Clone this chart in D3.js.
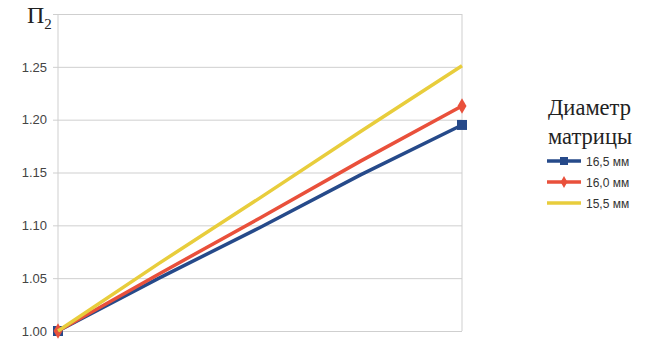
<!DOCTYPE html>
<html>
<head>
<meta charset="utf-8">
<style>
    body { margin: 0; background: #fff; }
    svg { display: block; }
    .y .tick text { font-family: 'Liberation Sans', Arial, sans-serif; font-size: 13px; fill: #444; }
    .y .tick line { stroke: #cfcfcf; }
    .y .domain { display: none; }
    .legend text { font-family: 'Liberation Sans', Arial, sans-serif; font-size: 12px; fill: #333; }
</style>
</head>
<body>
<svg width="646" height="341"></svg>
<script src="https://d3js.org/d3.v7.min.js"></script>
<script>
    // values
    let steps = [0, 1, 2, 3, 4]
    let d165 = [1.000, 1.050, 1.098, 1.148, 1.195]
    let d160 = [1.000, 1.054, 1.107, 1.161, 1.213]
    let d155 = [1.000, 1.064, 1.126, 1.189, 1.251]
    let seriesNames = ["16,5 мм", "16,0 мм", "15,5 мм"]
    let yTicks = [1.00, 1.05, 1.10, 1.15, 1.20, 1.25, 1.30]

    let series = [
        { name: seriesNames[0], values: d165, color: "#264a8a", marker: "square" },
        { name: seriesNames[1], values: d160, color: "#e9503b", marker: "diamond" },
        { name: seriesNames[2], values: d155, color: "#e8cd3c", marker: "none" }
    ]

    let margin = { top: 14, right: 184, bottom: 10, left: 58 }
    let width = 646, height = 341

    let svg = d3.select("svg")

    let x = d3.scaleLinear()
        .domain(d3.extent(steps))
        .range([margin.left, width - margin.right])

    let y = d3.scaleLinear()
        .domain([1.00, 1.30])
        .range([height - margin.bottom, margin.top])

    // horizontal grid + labels
    let yAxis = d3.axisLeft(y)
        .tickValues(yTicks)
        .tickSize(-(x.range()[1] - x.range()[0]) - 5)
        .tickPadding(6)
        .tickFormat(function (d) { return d === 1.30 ? "" : d3.format(".2f")(d) })

    svg.append("g")
        .attr("class", "y axis")
        .attr("transform", `translate(${margin.left - 5},0)`)
        .call(yAxis)

    // plot box sides
    svg.append("line")
        .attr("x1", x.range()[0]).attr("x2", x.range()[0])
        .attr("y1", y(1.30)).attr("y2", y(1.00))
        .style("stroke", "#cfcfcf")
    svg.append("line")
        .attr("x1", x.range()[1]).attr("x2", x.range()[1])
        .attr("y1", y(1.30)).attr("y2", y(1.00))
        .style("stroke", "#cfcfcf")

    // axis title
    let title = svg.append("text")
        .attr("x", 27)
        .attr("y", 23)
        .style("font-family", "'Liberation Serif', 'Times New Roman', serif")
        .style("font-size", "24px")
        .style("fill", "#222")
    title.append("tspan").text("Π")
    title.append("tspan").attr("dy", 6).style("font-size", "15px").text("2")

    let line = d3.line()
        .x(function (d, i) { return x(steps[i]) })
        .y(function (d) { return y(d) })

    let diamond = d3.symbol().type(d3.symbolDiamond).size(70)

    // markers first, then lines with yellow on top
    series.forEach(function (s) {
        let ends = [0, s.values.length - 1]
        ends.forEach(function (i) {
            let cx = x(steps[i]), cy = y(s.values[i])
            if (s.marker === "square") {
                svg.append("rect")
                    .attr("x", cx - 5).attr("y", cy - 5)
                    .attr("width", 10).attr("height", 10)
                    .style("fill", s.color)
            } else if (s.marker === "diamond") {
                svg.append("path")
                    .attr("d", diamond)
                    .attr("transform", `translate(${cx},${cy})`)
                    .style("fill", s.color)
            }
        })
    })

    series.forEach(function (s) {
        svg.append("path")
            .datum(s.values)
            .attr("d", line)
            .style("fill", "none")
            .style("stroke", s.color)
            .style("stroke-width", 3.5)
            .style("stroke-linejoin", "round")
    })

    // legend
    let lg = svg.append("g").attr("class", "legend")
    lg.append("text")
        .attr("x", 548).attr("y", 115)
        .style("font-family", "'Liberation Serif', 'Times New Roman', serif")
        .style("font-size", "22.5px").style("fill", "#222")
        .text("Диаметр")
    lg.append("text")
        .attr("x", 548).attr("y", 144)
        .style("font-family", "'Liberation Serif', 'Times New Roman', serif")
        .style("font-size", "22.5px").style("fill", "#222")
        .text("матрицы")

    series.forEach(function (s, i) {
        let ly = 161 + i * 21
        lg.append("line")
            .attr("x1", 547).attr("x2", 581)
            .attr("y1", ly).attr("y2", ly)
            .style("stroke", s.color)
            .style("stroke-width", 3.5)
        if (s.marker === "square") {
            lg.append("rect").attr("x", 560).attr("y", ly - 4).attr("width", 8).attr("height", 8).style("fill", s.color)
        } else if (s.marker === "diamond") {
            lg.append("path").attr("d", d3.symbol().type(d3.symbolDiamond).size(40))
                .attr("transform", `translate(564,${ly})`).style("fill", s.color)
        }
        lg.append("text")
            .attr("x", 586).attr("y", ly + 4.5)
            .text(s.name)
    })
</script>
</body>
</html>
